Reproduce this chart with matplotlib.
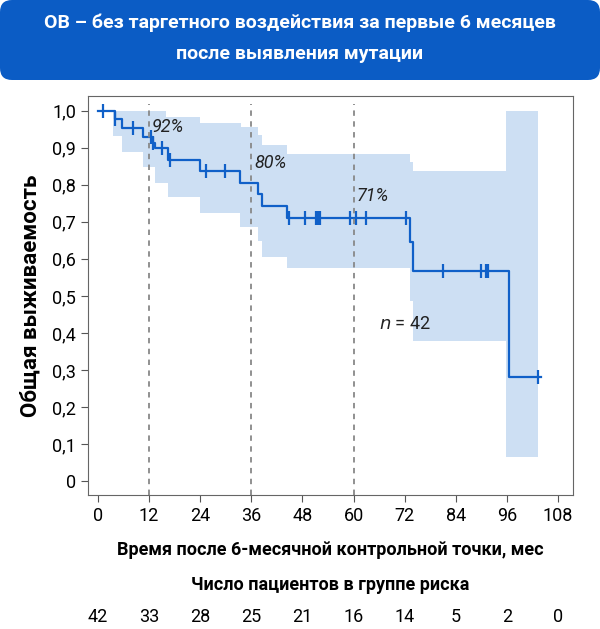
import matplotlib
matplotlib.use("Agg")
import matplotlib.pyplot as plt
from matplotlib.patches import FancyBboxPatch

# survival step curve (time of step, survival after step)
km_t = [0, 4, 5.7, 10.5, 13.0, 13.5, 16.5, 24, 33.3, 37.6, 38.6, 44.3, 73.3, 74, 96.5, 104]
km_s = [1.0, 0.978, 0.953, 0.928, 0.912, 0.90, 0.868, 0.838, 0.806, 0.776, 0.742, 0.71, 0.645, 0.566, 0.28, 0.28]
cens_t = [1.2, 4, 8.3, 12.4, 13, 15, 16.9, 25.5, 29.8, 44.9, 48.6, 51.3, 51.7, 52.2, 59.2, 60.5, 62.9, 72.3, 81, 90, 91, 91.5, 103.4]
ci_t = [3.5, 5.7, 10.5, 13.5, 16, 16.5, 24, 33.3, 33.7, 37.6, 38.6, 44.3, 73.3, 74, 95.8, 103.3]
ci_lo = [0.933, 0.888, 0.847, 0.806, 0.806, 0.766, 0.725, 0.687, 0.687, 0.649, 0.604, 0.575, 0.485, 0.379, 0.065, 0.065]
ci_hi = [1.0, 1.0, 1.0, 1.0, 0.984, 0.984, 0.968, 0.968, 0.955, 0.935, 0.908, 0.884, 0.863, 0.838, 1.0, 1.0]
marks = [12, 36, 60]
mark_labels = ["92%", "80%", "71%"]
mark_y = [0.955, 0.858, 0.77]
risk_x = [0, 12, 24, 36, 48, 60, 72, 84, 96, 108]
risk_n = [42, 33, 28, 25, 21, 16, 14, 5, 2, 0]

def surv_at(t):
    s = km_s[0]
    for tt, ss in zip(km_t, km_s):
        if tt <= t:
            s = ss
    return s

plt.rcParams['font.family'] = ['Roboto', 'DejaVu Sans']
fig = plt.figure(figsize=(6, 6.29), dpi=100)
blue = "#1060c8"

# header
hdr = fig.add_axes([0, 1 - 80/629, 1, 80/629])
hdr.set_axis_off(); hdr.set_xlim(0, 1); hdr.set_ylim(0, 1)
hdr.add_patch(FancyBboxPatch((0.0, 0.0), 1.0, 1.0, boxstyle="round,pad=0,rounding_size=0.02",
                             fc="#0b5cc5", ec="none", mutation_aspect=7.5))
hdr.text(0.5, 0.71, "ОВ – без таргетного воздействия за первые 6 месяцев", color="white",
         ha="center", va="center", fontsize=14, fontweight="bold")
hdr.text(0.5, 0.33, "после выявления мутации", color="white",
         ha="center", va="center", fontsize=14, fontweight="bold")

ax = fig.add_axes([88/600, 1 - 495/629, (573-88)/600, (495-96)/629])
ax.fill_between(ci_t, ci_lo, ci_hi, step="post", color="#cddff3", lw=0)
ax.step(km_t, km_s, where="post", color=blue, lw=1.6)
ax.plot(cens_t, [surv_at(t) for t in cens_t], ls="none", marker="|", ms=10, mew=1.6, color=blue)
for m, lab, yy in zip(marks, mark_labels, mark_y):
    ax.axvline(m, color="#888888", ls=(0, (3, 3)), lw=1.3, ymax=0.98)
    ax.text(m + 0.7, yy, lab, fontsize=13, style="italic", ha="left", va="center", color="#222")
ax.text(72, 0.425, "$\\it{n}$ = 42", fontsize=13, ha="center", va="center", color="#222")
ax.set_xlim(-2.3, 111.5)
ax.set_ylim(-0.038, 1.04)
ax.set_xticks(risk_x)
ax.set_yticks([i/10 for i in range(11)])
ax.set_yticklabels([f"{i/10:.1f}".replace(".", ",") if i else "0" for i in range(11)])
ax.tick_params(labelsize=13, color="#555", length=5)
for sp in ax.spines.values():
    sp.set_color("#666")
ax.set_ylabel("Общая выживаемость", fontsize=16, fontweight="bold", labelpad=8)
ax.set_xlabel("Время после 6-месячной контрольной точки, мес", fontsize=13, fontweight="bold", labelpad=12)

fig.text(0.55, 1 - 585/629, "Число пациентов в группе риска",
         ha="center", va="center", fontsize=13, fontweight="bold")
for x, n in zip(risk_x, risk_n):
    fx = (98 + x * (460/108)) / 600
    fig.text(fx, 1 - 617/629, str(n), ha="center", va="center", fontsize=13)

fig.savefig("out.png", dpi=100)
